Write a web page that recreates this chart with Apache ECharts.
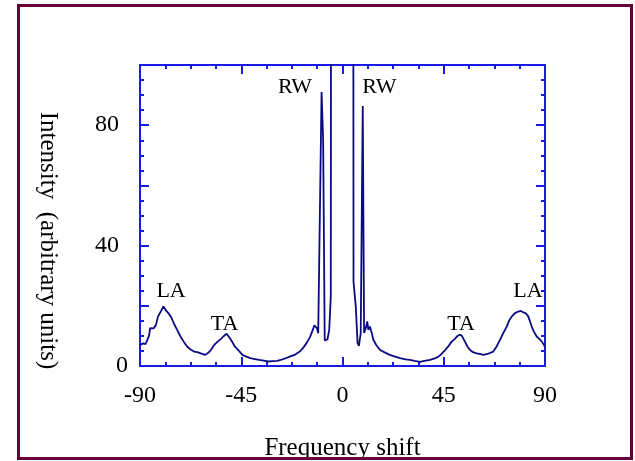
<!DOCTYPE html>
<html>
<head>
<meta charset="utf-8">
<script src="https://cdn.jsdelivr.net/npm/echarts@6/dist/echarts.min.js"></script>
<style>
  html, body { margin: 0; padding: 0; background: #fff; }
  #wrap { position: relative; width: 635px; height: 461px; }
  #main { position: absolute; left: 0; top: 0; width: 635px; height: 461px; }
  #frame { position: absolute; left: 17px; top: 4px; width: 616px; height: 456px;
           box-sizing: border-box; border: 3px solid #660036; pointer-events: none; }
</style>
</head>
<body>
<div id="wrap">
  <div id="main"></div>
  <div id="frame"></div>
</div>
<script>
// frequency shift (x) and intensity (y)
var freqShift = [
  -90, -88.5, -87.5, -86, -85.5, -84, -83, -82, -80.5, -79.6, -78.5, -77.4, -76, -75,
  -73.5, -72, -70.5, -69, -67.5, -66, -64.5, -63, -61, -59.5, -58.5, -57, -55.5, -54,
  -53, -51.5, -50, -49, -47.8, -46, -44.5, -43, -41, -39, -37, -35, -33, -31, -29,
  -27.5, -25.5, -23.5, -21, -19, -17.5, -16, -14.5, -13.5, -12.5, -12, -11.3, -10.8,
  -10.3, -9.3, -8.6, -7.9, -7.5, -6.7, -5.9, -5.2, -5.1,
  4.8, 4.9, 5.9, 6.7, 7.3, 8.1, 9.0, 9.6, 10, 10.5, 11, 11.5, 12.2, 13, 13.7, 15, 16.7,
  18.5, 21, 23, 25.6, 28, 30, 32, 34.4, 36.5, 38.9, 41, 42.6, 44, 45.6, 47, 48.5, 50,
  50.8, 52, 53, 54.4, 55.5, 56.7, 58, 59.6, 61, 62.6, 64.5, 67, 68.5, 70, 71.5, 73, 74,
  75.2, 76.5, 78.1, 79.3, 80.4, 81.5, 82.6, 84.1, 85, 86.3, 87.5, 88.6, 90
];
var intensity = [
  7, 7.5, 7.3, 10, 12.6, 12.5, 13.5, 16.4, 18.5, 19.8, 18.5, 17.6, 16, 14.2,
  12, 9.8, 8, 6.4, 5.5, 4.8, 4.6, 4.2, 3.7, 4.5, 5.3, 7, 8.1, 9,
  9.8, 10.7, 9.2, 8, 6.4, 5, 3.7, 3.2, 2.6, 2.3, 2, 1.8, 1.5, 1.6, 1.7,
  2, 2.5, 3.1, 3.8, 4.8, 6, 7.6, 9.5, 11.4, 13.5, 13.7, 12.5, 10.9,
  10.3, 91, 75, 8.5, 8.1, 8.8, 12, 23, 130,
  130, 28, 19.8, 7.6, 6.7, 10.9, 86.4, 11, 10.9, 13, 14.8, 12, 13.1, 11, 8.7, 7, 5.3,
  4.6, 3.7, 3.2, 2.6, 2.2, 2, 1.7, 1.4, 1.7, 2, 2.5, 3.1, 4, 5.3, 6.5, 8.1, 9,
  9.8, 10.4, 10.1, 8.1, 6.5, 5.3, 4.6, 4.2, 4, 3.7, 4, 4.8, 6.5, 8.7, 11, 13.1, 15,
  16.4, 17.5, 18.1, 18.3, 17.8, 17.5, 16.4, 13.1, 11.5, 9.8, 9, 8.1, 6.4
];

// peak labels
var peakNames = ['RW', 'RW', 'LA', 'LA', 'TA', 'TA'];
var peakX = [-21.1, 16.4, -76.2, 82.4, -52.4, 52.7];
var peakY = [92.7, 92.7, 25, 25, 14, 14];

var yLabelTicks = [0, 40, 80];

var axisBlue = '#1a1ae6';
var lineNavy = '#0a0a85';
var serif = "'Liberation Serif', 'Times New Roman', serif";

var spectrum = freqShift.map(function (x, i) { return [x, intensity[i]]; });
var peaks = peakNames.map(function (n, i) { return { name: n, value: [peakX[i], peakY[i]] }; });

var myChart = echarts.init(document.getElementById('main'));

function frameAxis (extra) {
  var base = {
    type: 'value',
    axisLine: { show: true, onZero: false, lineStyle: { color: axisBlue, width: 2 } },
    axisTick: { show: true, inside: true, length: 9, lineStyle: { color: axisBlue, width: 2 } },
    minorTick: { show: true, splitNumber: 4, length: 4, lineStyle: { color: axisBlue, width: 2 } },
    splitLine: { show: false },
    minorSplitLine: { show: false }
  };
  return Object.assign(base, extra);
}

myChart.setOption({
  animation: false,
  grid: { left: 140, top: 65, width: 405, height: 301, outerBoundsMode: 'none' },
  xAxis: [
    frameAxis({
      position: 'bottom', min: -90, max: 90, interval: 45,
      name: 'Frequency shift', nameLocation: 'middle', nameGap: 70,
      nameTextStyle: { fontFamily: serif, fontSize: 25, color: '#000' },
      axisLabel: { margin: 18, fontFamily: serif, fontSize: 24, color: '#000' }
    }),
    frameAxis({
      position: 'top', min: -90, max: 90, interval: 45,
      axisLabel: { show: false }
    })
  ],
  yAxis: [
    frameAxis({
      position: 'left', min: 0, max: 100, interval: 20,
      name: 'Intensity  (arbitrary units)', nameLocation: 'middle', nameGap: 80, nameRotate: -90,
      nameTextStyle: { fontFamily: serif, fontSize: 25, color: '#000', padding: [0, 0, 0, 50] },
      axisLabel: {
        margin: 12, fontFamily: serif, fontSize: 24, color: '#000',
        formatter: function (v) {
          if (yLabelTicks.indexOf(v) < 0) return '';
          return v === 0 ? '{z|0}' : '{p|' + v + '}';
        },
        rich: {
          z: { fontFamily: serif, fontSize: 24, color: '#000' },
          p: { fontFamily: serif, fontSize: 24, color: '#000', padding: [0, 9, 0, 0] }
        }
      }
    }),
    frameAxis({
      position: 'right', min: 0, max: 100, interval: 20,
      axisLabel: { show: false }
    })
  ],
  series: [
    {
      type: 'line',
      data: spectrum,
      showSymbol: false,
      clip: true,
      lineStyle: { color: lineNavy, width: 1.8 }
    },
    {
      type: 'scatter',
      data: peaks,
      symbolSize: 0,
      itemStyle: { color: 'transparent', opacity: 1 },
      label: {
        show: true, position: [0, 0], align: 'center', verticalAlign: 'middle',
        formatter: '{b}', fontFamily: serif, fontSize: 22, color: '#000',
        textBorderWidth: 0
      }
    }
  ]
})
</script>
</body>
</html>
